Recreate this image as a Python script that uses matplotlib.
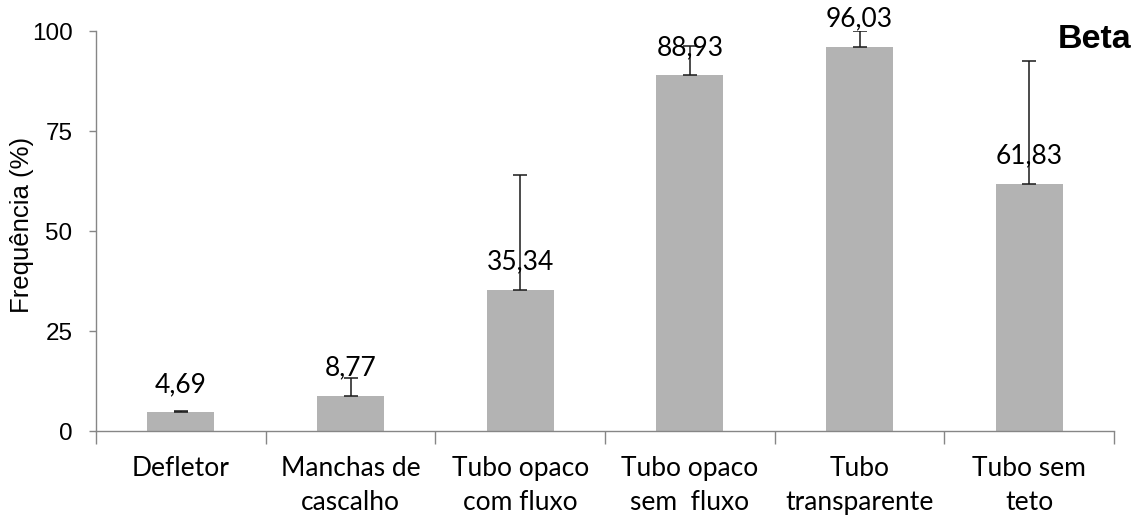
import matplotlib
matplotlib.use("Agg")
import matplotlib.pyplot as plt
import numpy as np

categories = ["Defletor", "Manchas de\ncascalho", "Tubo opaco\ncom fluxo",
              "Tubo opaco\nsem  fluxo", "Tubo\ntransparente", "Tubo sem\nteto"]
frequencia = [4.69, 8.77, 35.34, 88.93, 96.03, 61.83]
erro_sup = [0.2, 4.4, 28.7, 7.4, 4.0, 30.7]
value_labels = ["4,69", "8,77", "35,34", "88,93", "96,03", "61,83"]
yticks = [0, 25, 50, 75, 100]

axis_grey = "#868686"
bar_grey = "#B3B3B3"
W, H = 1136, 516

fig = plt.figure(figsize=(W / 100, H / 100), dpi=100)
ax = fig.add_axes([96 / W, (H - 431) / H, (1114 - 96) / W, (431 - 31) / H])

x = np.arange(len(categories)) + 0.5
ax.bar(x, frequencia, width=0.395, color=bar_grey, zorder=2)
ax.errorbar(x, frequencia, yerr=[np.zeros(len(frequencia)), erro_sup],
            fmt="none", ecolor="#1a1a1a", elinewidth=1.1, capsize=5,
            capthick=1.1, zorder=3)

for xi, v, lab in zip(x, frequencia, value_labels):
    ax.annotate(lab, (xi, v), xytext=(0, 14.5), textcoords="offset points",
                ha="center", va="baseline", fontsize=19,
                family=["Lato", "DejaVu Sans"], color="black", zorder=4)

ax.set_xlim(0, len(categories))
ax.set_ylim(0, 100)
ax.set_yticks(yticks)
ax.set_yticklabels([str(t) for t in yticks], fontsize=17.5,
                   family="Liberation Sans")

# category separators as major ticks, labels on minor ticks
ax.set_xticks(np.arange(len(categories) + 1))
ax.set_xticklabels([])
ax.set_xticks(x, minor=True)
ax.set_xticklabels(categories, minor=True, fontsize=19,
                   family=["Lato", "DejaVu Sans"], linespacing=1.45)
ax.tick_params(axis="x", which="major", length=9, width=1, color=axis_grey,
               direction="out")
ax.tick_params(axis="x", which="minor", length=0, pad=18)
ax.tick_params(axis="y", length=5, width=1, color=axis_grey, pad=12)

for s in ["top", "right"]:
    ax.spines[s].set_visible(False)
for s in ["left", "bottom"]:
    ax.spines[s].set_color(axis_grey)
    ax.spines[s].set_linewidth(1)

fig.text(22 / W, 1 - 225 / H, "Frequência (%)", rotation=90, ha="center",
         va="center", fontsize=18.5, family="Liberation Sans")

fig.text(1131 / W, 1 - 48 / H, "Beta", ha="right", va="baseline",
         fontsize=24.5, fontweight="bold", family="Liberation Sans")

fig.savefig("out.png", dpi=100)
